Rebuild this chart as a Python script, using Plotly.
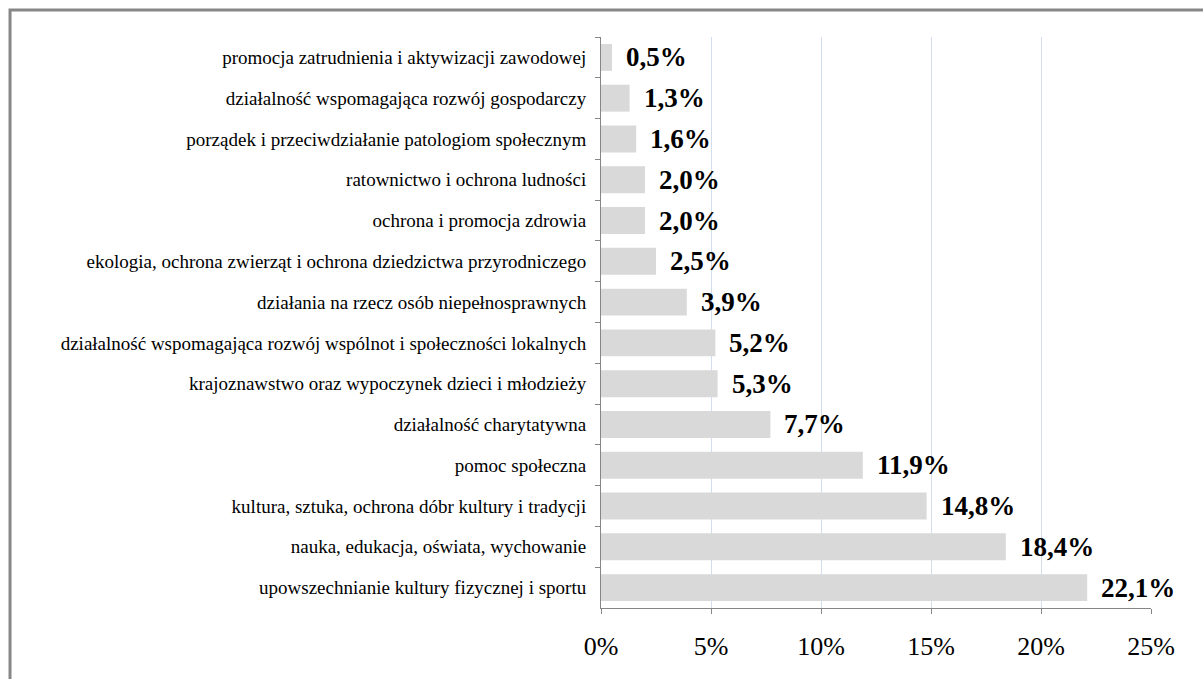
import plotly.graph_objects as go

categories = [
    "promocja zatrudnienia i aktywizacji zawodowej",
    "działalność wspomagająca rozwój gospodarczy",
    "porządek i przeciwdziałanie patologiom społecznym",
    "ratownictwo i ochrona ludności",
    "ochrona i promocja zdrowia",
    "ekologia, ochrona zwierząt i ochrona dziedzictwa przyrodniczego",
    "działania na rzecz osób niepełnosprawnych",
    "działalność wspomagająca rozwój wspólnot i społeczności lokalnych",
    "krajoznawstwo oraz wypoczynek dzieci i młodzieży",
    "działalność charytatywna",
    "pomoc społeczna",
    "kultura, sztuka, ochrona dóbr kultury i tradycji",
    "nauka, edukacja, oświata, wychowanie",
    "upowszechnianie kultury fizycznej i sportu",
]
values = [0.5, 1.3, 1.6, 2.0, 2.0, 2.5, 3.9, 5.2, 5.3, 7.7, 11.9, 14.8, 18.4, 22.1]
x_ticks = [0, 5, 10, 15, 20, 25]
x_tick_labels = ["0%", "5%", "10%", "15%", "20%", "25%"]

serif = "Times New Roman, Liberation Serif, DejaVu Serif, serif"

fig = go.Figure()
fig.add_trace(go.Bar(
    y=categories, x=values, orientation="h",
    marker=dict(color="#d9d9d9", line=dict(width=0)),
    hoverinfo="skip",
))

for c, v in zip(categories, values):
    fig.add_annotation(
        x=v, y=c, xref="x", yref="y",
        text="<b>" + f"{v:.1f}".replace(".", ",") + "%</b>",
        showarrow=False, xanchor="left", yanchor="middle", xshift=12,
        font=dict(family=serif, size=27, color="#000000"),
    )

# outer frame of the picture
fig.add_shape(type="rect", xref="paper", yref="paper",
              x0=-1.0745, y0=-0.2, x1=1.3, y1=1.0473,
              line=dict(color="#878787", width=3), fillcolor="rgba(0,0,0,0)", layer="below")

fig.update_layout(
    width=1203, height=679,
    margin=dict(l=601, r=52, t=37, b=71),
    paper_bgcolor="white", plot_bgcolor="white",
    bargap=0.34, showlegend=False,
    font=dict(family=serif, color="#000000"),
    xaxis=dict(
        range=[0, 25], tickvals=x_ticks, ticktext=x_tick_labels,
        showgrid=True, gridcolor="#d3deed", gridwidth=1,
        zeroline=False, showline=True, linecolor="#868686", linewidth=1,
        ticks="outside", ticklen=5, tickcolor="#868686",
        tickfont=dict(family=serif, size=26, color="#000000"),
        ticklabelstandoff=10, fixedrange=True,
    ),
    yaxis=dict(
        autorange="reversed", showgrid=False, zeroline=False,
        showline=True, linecolor="#868686", linewidth=1,
        ticks="outside", ticklen=5, tickcolor="#868686", tickson="boundaries",
        tickfont=dict(family=serif, size=19, color="#000000"),
        ticklabelstandoff=10, fixedrange=True,
    ),
)

fig.write_html(
    "out.html",
    config={"displayModeBar": False, "staticPlot": True},
    post_script="document.body.style.margin='0';document.body.style.overflow='hidden';",
)
